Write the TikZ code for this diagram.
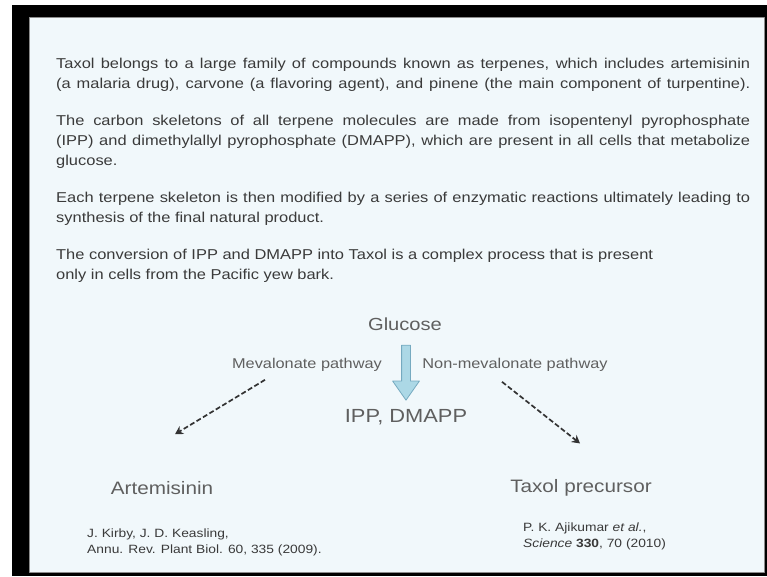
\documentclass[tikz,border=0pt]{standalone}
\usepackage{fontspec}
\setmainfont{Liberation Sans}[FakeStretch=1.15]
\usetikzlibrary{arrows.meta,shapes.arrows}
\definecolor{slidebg}{RGB}{241,248,251}
\definecolor{bodytext}{RGB}{58,58,58}
\definecolor{labeltext}{RGB}{95,95,95}
\definecolor{arrowfill}{RGB}{172,216,230}
\definecolor{arrowline}{RGB}{118,170,192}
\newcommand{\jline}[1]{\makebox[694pt][s]{#1}}
\begin{document}
\begin{tikzpicture}[x=1pt,y=-1pt,line join=round,
	para/.style={anchor=base west,inner sep=0pt,text=bodytext,font=\fontsize{14.3}{16}\selectfont},
	big/.style={inner sep=1pt,text=labeltext,font=\fontsize{18}{20}\selectfont},
	pathlabel/.style={inner sep=1pt,text=labeltext,font=\fontsize{14.2}{16}\selectfont},
	ref/.style={anchor=base west,inner sep=0pt,text=bodytext,font=\fontsize{12}{14}\selectfont},
	pathway/.style={-{Stealth[length=8pt,width=9pt]},dash pattern=on 5pt off 2.5pt,line width=1.7pt,draw=black!80}]
	\useasboundingbox (0,0) rectangle (767,576);
	% frame and slide
	\fill[white] (0,0) rectangle (767,576);
	\fill[black] (12,5) rectangle (767,576);
	\fill[slidebg,draw=black!45,line width=1pt] (29,17) rectangle (764,572);
	%
	\node[para] (p1a) at (56,68) {\jline{Taxol belongs to a large family of compounds known as terpenes, which includes artemisinin}};
	\node[para] (p1b) at (56,88) {\jline{(a malaria drug), carvone (a flavoring agent), and pinene (the main component of turpentine).}};
	\node[para] (p2a) at (56,125) {\jline{The carbon skeletons of all terpene molecules are made from isopentenyl pyrophosphate}};
	\node[para] (p2b) at (56,145) {\jline{(IPP) and dimethylallyl pyrophosphate (DMAPP), which are present in all cells that metabolize}};
	\node[para] (p2c) at (56,165) {glucose.};
	\node[para] (p3a) at (56,202) {\jline{Each terpene skeleton is then modified by a series of enzymatic reactions ultimately leading to}};
	\node[para] (p3b) at (56,222) {synthesis of the final natural product.};
	\node[para] (p4a) at (56,259) {The conversion of IPP and DMAPP into Taxol is a complex process that is present};
	\node[para] (p4b) at (56,279) {only in cells from the Pacific yew bark.};
	%
	\node[big,font=\fontsize{17.5}{20}\selectfont] (glu) at (405,324) {Glucose};
	\node[big,font=\fontsize{19}{20}\selectfont] (ipp) at (406,417) {IPP, DMAPP};
	\node[pathlabel] (mev) at (307,365) {Mevalonate pathway};
	\node[pathlabel] (nonmev) at (515,365) {Non-mevalonate pathway};
	\node[big] (art) at (162,488) {Artemisinin};
	\node[big] (tax) at (581,488) {Taxol precursor};
	\node[ref] (refa) at (87,537) {J. Kirby, J. D. Keasling,};
	\node[ref] (refb) at (87,553) {Annu. Rev. Plant Biol. 60, 335 (2009).};
	\node[ref] (refc) at (523,531) {P. K. Ajikumar \textit{et al.},};
	\node[ref] (refd) at (523,547) {\textit{Science} \textbf{330}, 70 (2010)};
	%
	\node[single arrow,draw=arrowline,fill=arrowfill,line width=0.8pt,shape border rotate=270,
		minimum width=8pt,single arrow head extend=9pt,single arrow tip angle=70,
		minimum height=55pt,inner sep=4pt] (flow) at (406,369.5) {};
	\draw[pathway] ([shift={(-42,7)}]mev.south) -- ([shift={(13,-46)}]art.north);
	\draw[pathway] ([shift={(-13,9)}]nonmev.south) -- ([shift={(-1,-35)}]tax.north);
\end{tikzpicture}
\end{document}
